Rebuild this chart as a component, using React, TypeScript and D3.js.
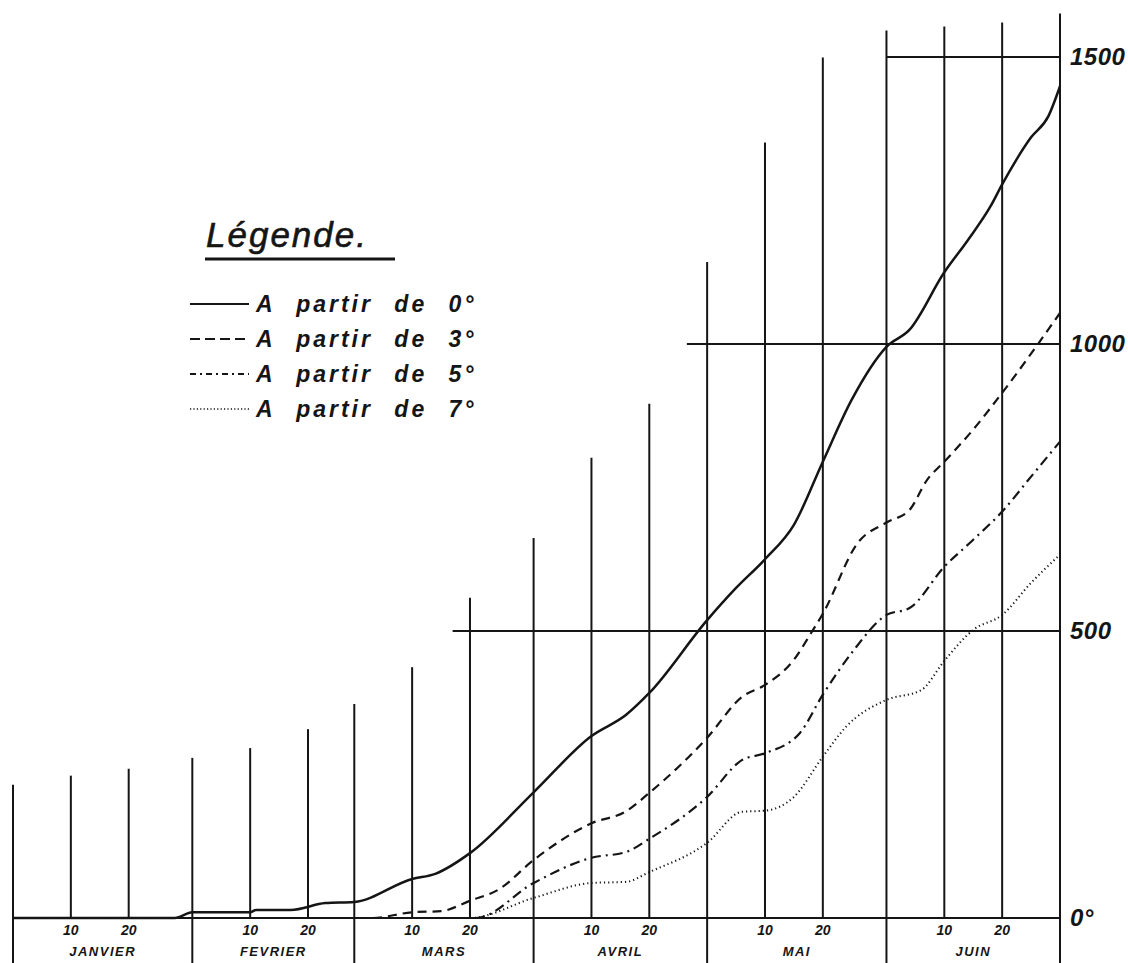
import React from "react";
import * as d3 from "d3";

// ---- data ----
const gridDays = [0, 10, 20, 31, 41, 51, 59, 69, 79, 90, 100, 110, 120, 130, 140, 151, 161, 171, 181];
const gridTops = [232, 248, 260, 279, 296, 329, 373, 437, 558, 662, 802, 896, 1143, 1351, 1499, 1546, 1553, 1560, 1576];
const monthStarts = [0, 31, 59, 90, 120, 151, 181];
const months = ["JANVIER", "FEVRIER", "MARS", "AVRIL", "MAI", "JUIN"];
const dayTicks = [10, 20];
const refLevels = [0, 500, 1000, 1500];
const refStartDays = [0, 76, 116.5, 151];
const yLabels = ["0°", "500", "1000", "1500"];

const days0 = [0, 28, 31, 41, 42, 48, 54, 59, 69, 73, 79, 90, 100, 106, 110, 120, 125, 130, 135, 140, 145, 151, 155, 161, 165, 169, 171, 176, 179, 181];
const vals0 = [0, 0, 10, 10, 14, 14, 26, 28, 68, 77, 113, 219, 317, 354, 392, 519, 575, 625, 685, 795, 903, 995, 1025, 1125, 1180, 1240, 1278, 1360, 1397, 1449];

const days3 = [0, 62, 69, 74, 79, 84, 90, 100, 106, 110, 120, 126, 130, 135, 138, 140, 146, 151, 155, 158, 161, 166, 171, 181];
const vals3 = [0, 0, 10, 12, 30, 50, 101, 165, 186, 218, 314, 385, 406, 450, 497, 530, 653, 689, 711, 763, 795, 851, 915, 1054];

const days5 = [0, 80, 90, 100, 106, 110, 120, 126, 130, 136, 140, 145, 151, 155, 161, 166, 171, 176, 181];
const vals5 = [0, 0, 61, 105, 115, 138, 211, 275, 287, 322, 389, 462, 528, 540, 612, 659, 708, 769, 830];

const days7 = [0, 79, 90, 100, 106, 110, 120, 126, 130, 135, 140, 144, 151, 157, 161, 166, 171, 176, 181];
const vals7 = [0, 0, 35, 61, 63, 80, 131, 185, 187, 211, 281, 333, 380, 397, 448, 502, 528, 584, 633];

const legendLabels = ["A partir de 0°", "A partir de 3°", "A partir de 5°", "A partir de 7°"];
const seriesDays = [days0, days3, days5, days7];
const seriesVals = [vals0, vals3, vals5, vals7];

// ---- styles ----
const dashes = ["none", "9 6", "10 5 2 5", "1.2 3"];
const widths = [2.5, 2.2, 2.2, 2];
const legendDashes = ["none", "10 5", "6 4 2 4", "1.2 2.2"];
const ink = "#151515";

export default function App() {
  const W = 1128;
  const H = 963;
  const x = d3.scaleLinear().domain([0, 181]).range([13, 1060]);
  const y = d3.scaleLinear().domain([0, 1500]).range([918, 57]);
  const line = d3
    .line<[number, number]>()
    .x((d) => x(d[0]))
    .y((d) => y(d[1]))
    .curve(d3.curveMonotoneX);

  const labelFont = "'Liberation Sans', Arial, sans-serif";

  return (
    <svg
      width={W}
      height={H}
      style={{ position: "absolute", left: 0, top: 0, background: "#fff" }}
    >
      <rect x={0} y={0} width={W} height={H} fill="#fff" />
      {/* vertical grid lines */}
      {gridDays.map((d, i) => {
        const isMonth = monthStarts.includes(d);
        return (
          <line
            key={"g" + i}
            x1={x(d)}
            x2={x(d)}
            y1={y(gridTops[i])}
            y2={isMonth ? H : y(0)}
            stroke={ink}
            strokeWidth={2}
          />
        );
      })}
      {/* horizontal reference lines */}
      {refLevels.map((v, i) => (
        <line
          key={"h" + i}
          x1={x(refStartDays[i])}
          x2={x(181)}
          y1={y(v)}
          y2={y(v)}
          stroke={ink}
          strokeWidth={v === 0 ? 2.2 : 1.8}
        />
      ))}
      {/* right labels */}
      {refLevels.map((v, i) => (
        <text
          key={"yl" + i}
          x={1070}
          y={y(v) + 8}
          fontFamily={labelFont}
          fontStyle="italic"
          fontWeight="bold"
          fontSize={24}
          letterSpacing={0.5}
          fill={ink}
        >
          {yLabels[i]}
        </text>
      ))}
      {/* day ticks */}
      {months.map((m, mi) =>
        dayTicks.map((t) => (
          <text
            key={m + t}
            x={x(monthStarts[mi] + t)}
            y={935}
            textAnchor="middle"
            fontFamily={labelFont}
            fontStyle="italic"
            fontWeight="bold"
            fontSize={14}
            fill={ink}
          >
            {t}
          </text>
        ))
      )}
      {/* month names */}
      {months.map((m, mi) => (
        <text
          key={m}
          x={x((monthStarts[mi] + monthStarts[mi + 1]) / 2)}
          y={956}
          textAnchor="middle"
          fontFamily={labelFont}
          fontStyle="italic"
          fontWeight="bold"
          fontSize={13}
          letterSpacing={1.5}
          fill={ink}
        >
          {m}
        </text>
      ))}
      {/* curves */}
      {seriesDays.map((ds, si) => (
        <path
          key={"s" + si}
          d={line(ds.map((d, j) => [d, seriesVals[si][j]]) as [number, number][]) || ""}
          fill="none"
          stroke={ink}
          strokeWidth={widths[si]}
          strokeDasharray={dashes[si]}
        />
      ))}
      {/* legend */}
      <text
        x={206}
        y={247}
        fontFamily={labelFont}
        fontStyle="italic"
        fontSize={35}
        letterSpacing={2}
        fill={ink}
        stroke={ink}
        strokeWidth={0.6}
      >
        Légende.
      </text>
      <line x1={205} x2={395} y1={259} y2={259} stroke={ink} strokeWidth={3.2} />
      {legendLabels.map((l, i) => {
        const cy = 304 + i * 35;
        return (
          <g key={"lg" + i}>
            <line
              x1={190}
              x2={249}
              y1={cy}
              y2={cy}
              stroke={ink}
              strokeWidth={i === 3 ? 1.6 : 2}
              strokeDasharray={legendDashes[i]}
            />
            <text
              x={256}
              y={cy + 8}
              fontFamily={labelFont}
              fontStyle="italic"
              fontWeight="bold"
              fontSize={23}
              letterSpacing={3}
              wordSpacing={12}
              fill={ink}
            >
              {l}
            </text>
          </g>
        );
      })}
    </svg>
  );
}
